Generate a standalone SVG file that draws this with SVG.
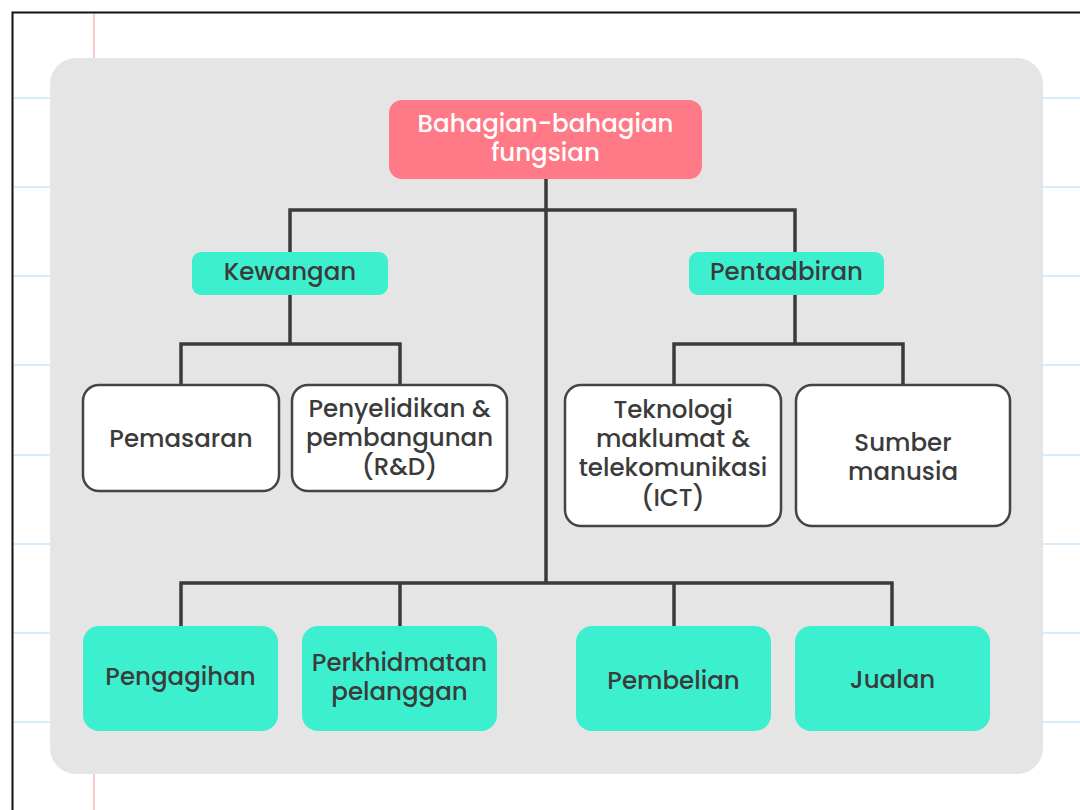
<svg xmlns="http://www.w3.org/2000/svg" width="1080" height="810" viewBox="0 0 1080 810">
<style>
.t{font-family:"Poppins","Open Sans","Liberation Sans",sans-serif;font-size:24.5px;font-weight:500;fill:#3b3b3b;text-anchor:middle}
.w{fill:#ffffff}
.teal{fill:#3cf0cf}
.box{fill:#ffffff;stroke:#444444;stroke-width:2.5}
.c{fill:none;stroke:#3b3b3b;stroke-width:3.5}
.nl{stroke:#d6eefb;stroke-width:2}
</style>
<rect x="0" y="0" width="1080" height="810" fill="#ffffff"/>
<g id="paper">
<line class="nl" x1="13" y1="98" x2="1080" y2="98"/>
<line class="nl" x1="13" y1="187" x2="1080" y2="187"/>
<line class="nl" x1="13" y1="276" x2="1080" y2="276"/>
<line class="nl" x1="13" y1="365" x2="1080" y2="365"/>
<line class="nl" x1="13" y1="455" x2="1080" y2="455"/>
<line class="nl" x1="13" y1="544" x2="1080" y2="544"/>
<line class="nl" x1="13" y1="633" x2="1080" y2="633"/>
<line class="nl" x1="13" y1="722" x2="1080" y2="722"/>
<line x1="94" y1="13" x2="94" y2="810" stroke="#ffc9cc" stroke-width="2"/>
<path d="M12.5 810 V12.5 H1080" fill="none" stroke="#111111" stroke-width="2"/>
</g>
<rect id="panel" x="50" y="58" width="993" height="716" rx="26" fill="#e5e5e5"/>
<g id="connectors">
<path class="c" d="M546 179 V583"/>
<path class="c" d="M290 252 V210 H795 V252"/>
<path class="c" d="M290 295 V344"/>
<path class="c" d="M181 385 V344 H400 V385"/>
<path class="c" d="M795 295 V344"/>
<path class="c" d="M674 385 V344 H903 V385"/>
<path class="c" d="M181 626 V583 H892 V626"/>
<path class="c" d="M400 583 V626"/>
<path class="c" d="M674 583 V626"/>
</g>
<g id="root">
<rect x="389" y="100" width="313" height="79" rx="13" fill="#ff7a86"/>
<text class="t w" x="545.5" y="132">Bahagian-bahagian</text>
<text class="t w" x="545.5" y="161">fungsian</text>
</g>
<g id="kewangan">
<rect class="teal" x="192" y="252" width="196" height="43" rx="9"/>
<text class="t" x="290" y="280">Kewangan</text>
</g>
<g id="pentadbiran">
<rect class="teal" x="689" y="252" width="195" height="43" rx="9"/>
<text class="t" x="786.5" y="280">Pentadbiran</text>
</g>
<g id="pemasaran">
<rect class="box" x="83" y="385" width="196" height="106" rx="16"/>
<text class="t" x="181" y="447">Pemasaran</text>
</g>
<g id="rnd">
<rect class="box" x="292" y="385" width="215" height="106" rx="16"/>
<text class="t" x="399.5" y="417">Penyelidikan &amp;</text>
<text class="t" x="399.5" y="446">pembangunan</text>
<text class="t" x="399.5" y="475">(R&amp;D)</text>
</g>
<g id="ict">
<rect class="box" x="565" y="385" width="216" height="141" rx="16"/>
<text class="t" x="673" y="418">Teknologi</text>
<text class="t" x="673" y="447">maklumat &amp;</text>
<text class="t" x="673" y="476">telekomunikasi</text>
<text class="t" x="673" y="506">(ICT)</text>
</g>
<g id="sumber">
<rect class="box" x="796" y="385" width="214" height="141" rx="16"/>
<text class="t" x="903" y="451">Sumber</text>
<text class="t" x="903" y="480">manusia</text>
</g>
<g id="pengagihan">
<rect class="teal" x="83" y="626" width="195" height="105" rx="16"/>
<text class="t" x="180.5" y="685">Pengagihan</text>
</g>
<g id="perkhidmatan">
<rect class="teal" x="302" y="626" width="195" height="105" rx="16"/>
<text class="t" x="399.5" y="671">Perkhidmatan</text>
<text class="t" x="399.5" y="700">pelanggan</text>
</g>
<g id="pembelian">
<rect class="teal" x="576" y="626" width="195" height="105" rx="16"/>
<text class="t" x="673.5" y="689">Pembelian</text>
</g>
<g id="jualan">
<rect class="teal" x="795" y="626" width="195" height="105" rx="16"/>
<text class="t" x="892.5" y="688">Jualan</text>
</g>
</svg>
